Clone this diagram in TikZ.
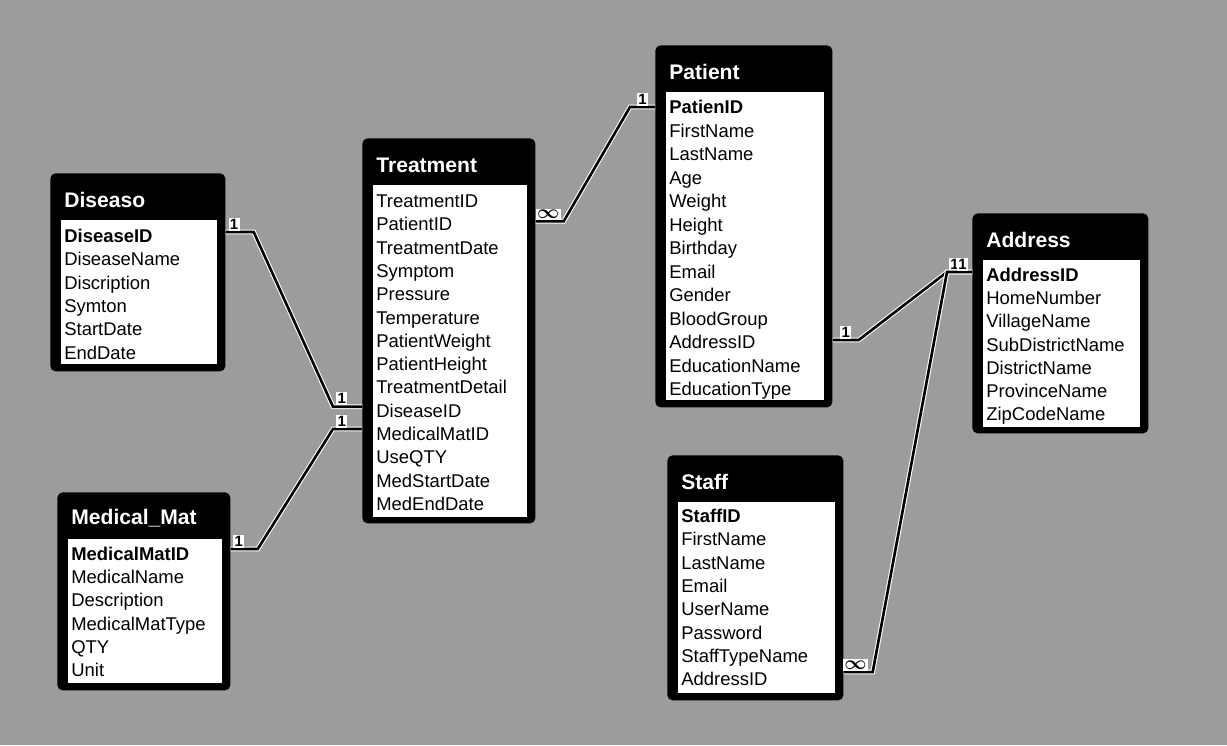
\documentclass[tikz,border=0pt]{standalone}
\usepackage{fontspec}
\setmainfont{Liberation Sans}
\usetikzlibrary{calc}

\definecolor{scanbg}{RGB}{156,156,156}
\newcommand{\pxu}{0.02cm}
\newcommand{\manysym}{\mbox{\fontsize{11}{12}\selectfont\boldmath$\infty$}}

\tikzset{
  tblframe/.style={fill=black, rounded corners=3pt, anchor=north west, inner sep=0pt},
  tblbox/.style={fill=white, draw=black, line width=0.5pt, anchor=north west, inner sep=0pt},
  tbltitle/.style={text=white, font=\fontsize{12}{13}\selectfont\bfseries, anchor=west, inner sep=0pt},
  field/.style={font=\fontsize{10.5}{12}\selectfont, anchor=west, inner sep=0pt, text height=1.6ex, text depth=0.4ex},
  keyfield/.style={field, font=\fontsize{10.5}{12}\selectfont\bfseries},
  rel/.style={line width=1.5pt, preaction={draw=white, line width=2.7pt}},
  card/.style={font=\fontsize{8.5}{9}\selectfont\bfseries, fill=white, inner sep=0.8pt, above},
}

\begin{document}
\begin{tikzpicture}[x=\pxu, y=-\pxu]
  \fill[scanbg] (0,0) rectangle (1227,745);

  % Diseaso
  \node[tblframe, minimum width=175*\pxu, minimum height=198*\pxu] (dis) at (50,173) {};
  \node[tblbox, minimum width=157*\pxu, minimum height=145*\pxu] (dis-box) at (60,219) {};
  \node[tbltitle] (dis-title) at (64,200) {Diseaso};
  \node[keyfield] (dis-1) at (64,237) {DiseaseID};
  \foreach \f [count=\i from 2] in {DiseaseName,Discription,Symton,StartDate,EndDate}
    \node[field] (dis-\i) at (64,{237+23.3*(\i-1)}) {\f};

  % Medical_Mat
  \node[tblframe, minimum width=173*\pxu, minimum height=198*\pxu] (mm) at (57,492) {};
  \node[tblbox, minimum width=155*\pxu, minimum height=145*\pxu] (mm-box) at (67,538) {};
  \node[tbltitle] (mm-title) at (71,518) {Medical\_Mat};
  \node[keyfield] (mm-1) at (71,555) {MedicalMatID};
  \foreach \f [count=\i from 2] in {MedicalName,Description,MedicalMatType,QTY,Unit}
    \node[field] (mm-\i) at (71,{555+23.2*(\i-1)}) {\f};

  % Treatment
  \node[tblframe, minimum width=173*\pxu, minimum height=385*\pxu] (trt) at (362,138) {};
  \node[tblbox, minimum width=155*\pxu, minimum height=333*\pxu] (trt-box) at (372,184) {};
  \node[tbltitle] (trt-title) at (376,165) {Treatment};
  \foreach \f [count=\i] in {TreatmentID,PatientID,TreatmentDate,Symptom,Pressure,Temperature,
      PatientWeight,PatientHeight,TreatmentDetail,DiseaseID,MedicalMatID,UseQTY,MedStartDate,MedEndDate}
    \node[field] (trt-\i) at (376,{202+23.3*(\i-1)}) {\f};

  % Patient
  \node[tblframe, minimum width=177*\pxu, minimum height=362*\pxu] (pat) at (655,45) {};
  \node[tblbox, minimum width=159*\pxu, minimum height=309*\pxu] (pat-box) at (665,91) {};
  \node[tbltitle] (pat-title) at (669,72) {Patient};
  \node[keyfield] (pat-1) at (669,108) {PatienID};
  \foreach \f [count=\i from 2] in {FirstName,LastName,Age,Weight,Height,Birthday,Email,Gender,
      BloodGroup,AddressID,EducationName,EducationType}
    \node[field] (pat-\i) at (669,{108+23.5*(\i-1)}) {\f};

  % Staff
  \node[tblframe, minimum width=176*\pxu, minimum height=245*\pxu] (stf) at (667,455) {};
  \node[tblbox, minimum width=158*\pxu, minimum height=192*\pxu] (stf-box) at (677,501) {};
  \node[tbltitle] (stf-title) at (681,482) {Staff};
  \node[keyfield] (stf-1) at (681,517) {StaffID};
  \foreach \f [count=\i from 2] in {FirstName,LastName,Email,UserName,Password,StaffTypeName,AddressID}
    \node[field] (stf-\i) at (681,{517+23.3*(\i-1)}) {\f};

  % Address
  \node[tblframe, minimum width=176*\pxu, minimum height=220*\pxu] (adr) at (972,213) {};
  \node[tblbox, minimum width=158*\pxu, minimum height=168*\pxu] (adr-box) at (982,259) {};
  \node[tbltitle] (adr-title) at (986,240) {Address};
  \node[keyfield] (adr-1) at (986,276) {AddressID};
  \foreach \f [count=\i from 2] in {HomeNumber,VillageName,SubDistrictName,DistrictName,ProvinceName,ZipCodeName}
    \node[field] (adr-\i) at (986,{276+23.2*(\i-1)}) {\f};

  % relationships
  \draw[rel] ($(dis.east |- dis-1)+(0,-5)$) -- node[card, pos=0.3] {1} ++(28,0)
    -- ($(trt.west |- trt-10)+(-29,-5)$) -- node[card, pos=0.3] {1} ++(29,0);
  \draw[rel] ($(mm.east |- mm-1)+(0,-6)$) -- node[card, pos=0.3] {1} ++(27,0)
    -- ($(trt.west |- trt-11)+(-29,-6)$) -- node[card, pos=0.3] {1} ++(29,0);
  \draw[rel] ($(trt.east |- trt-2)+(0,-4)$) -- node[card, pos=0.45] {\manysym} ++(28,0)
    -- ($(pat.west |- pat-1)+(-25,-1)$) -- node[card, pos=0.5] {1} ++(25,0);
  \draw[rel] ($(pat.east |- pat-11)+(0,-3)$) -- node[card, pos=0.5] {1} ++(26,0)
    -- ($(adr.west |- adr-1)+(-25,-4)$) -- node[card, pos=0.3] {1} ++(25,0);
  \draw[rel] ($(stf.east |- stf-8)+(0,-8)$) -- node[card, pos=0.4] {\manysym} ++(29,0)
    -- ($(adr.west |- adr-1)+(-25,-4)$) -- node[card, pos=0.62] {1} ++(25,0);
\end{tikzpicture}
\end{document}
